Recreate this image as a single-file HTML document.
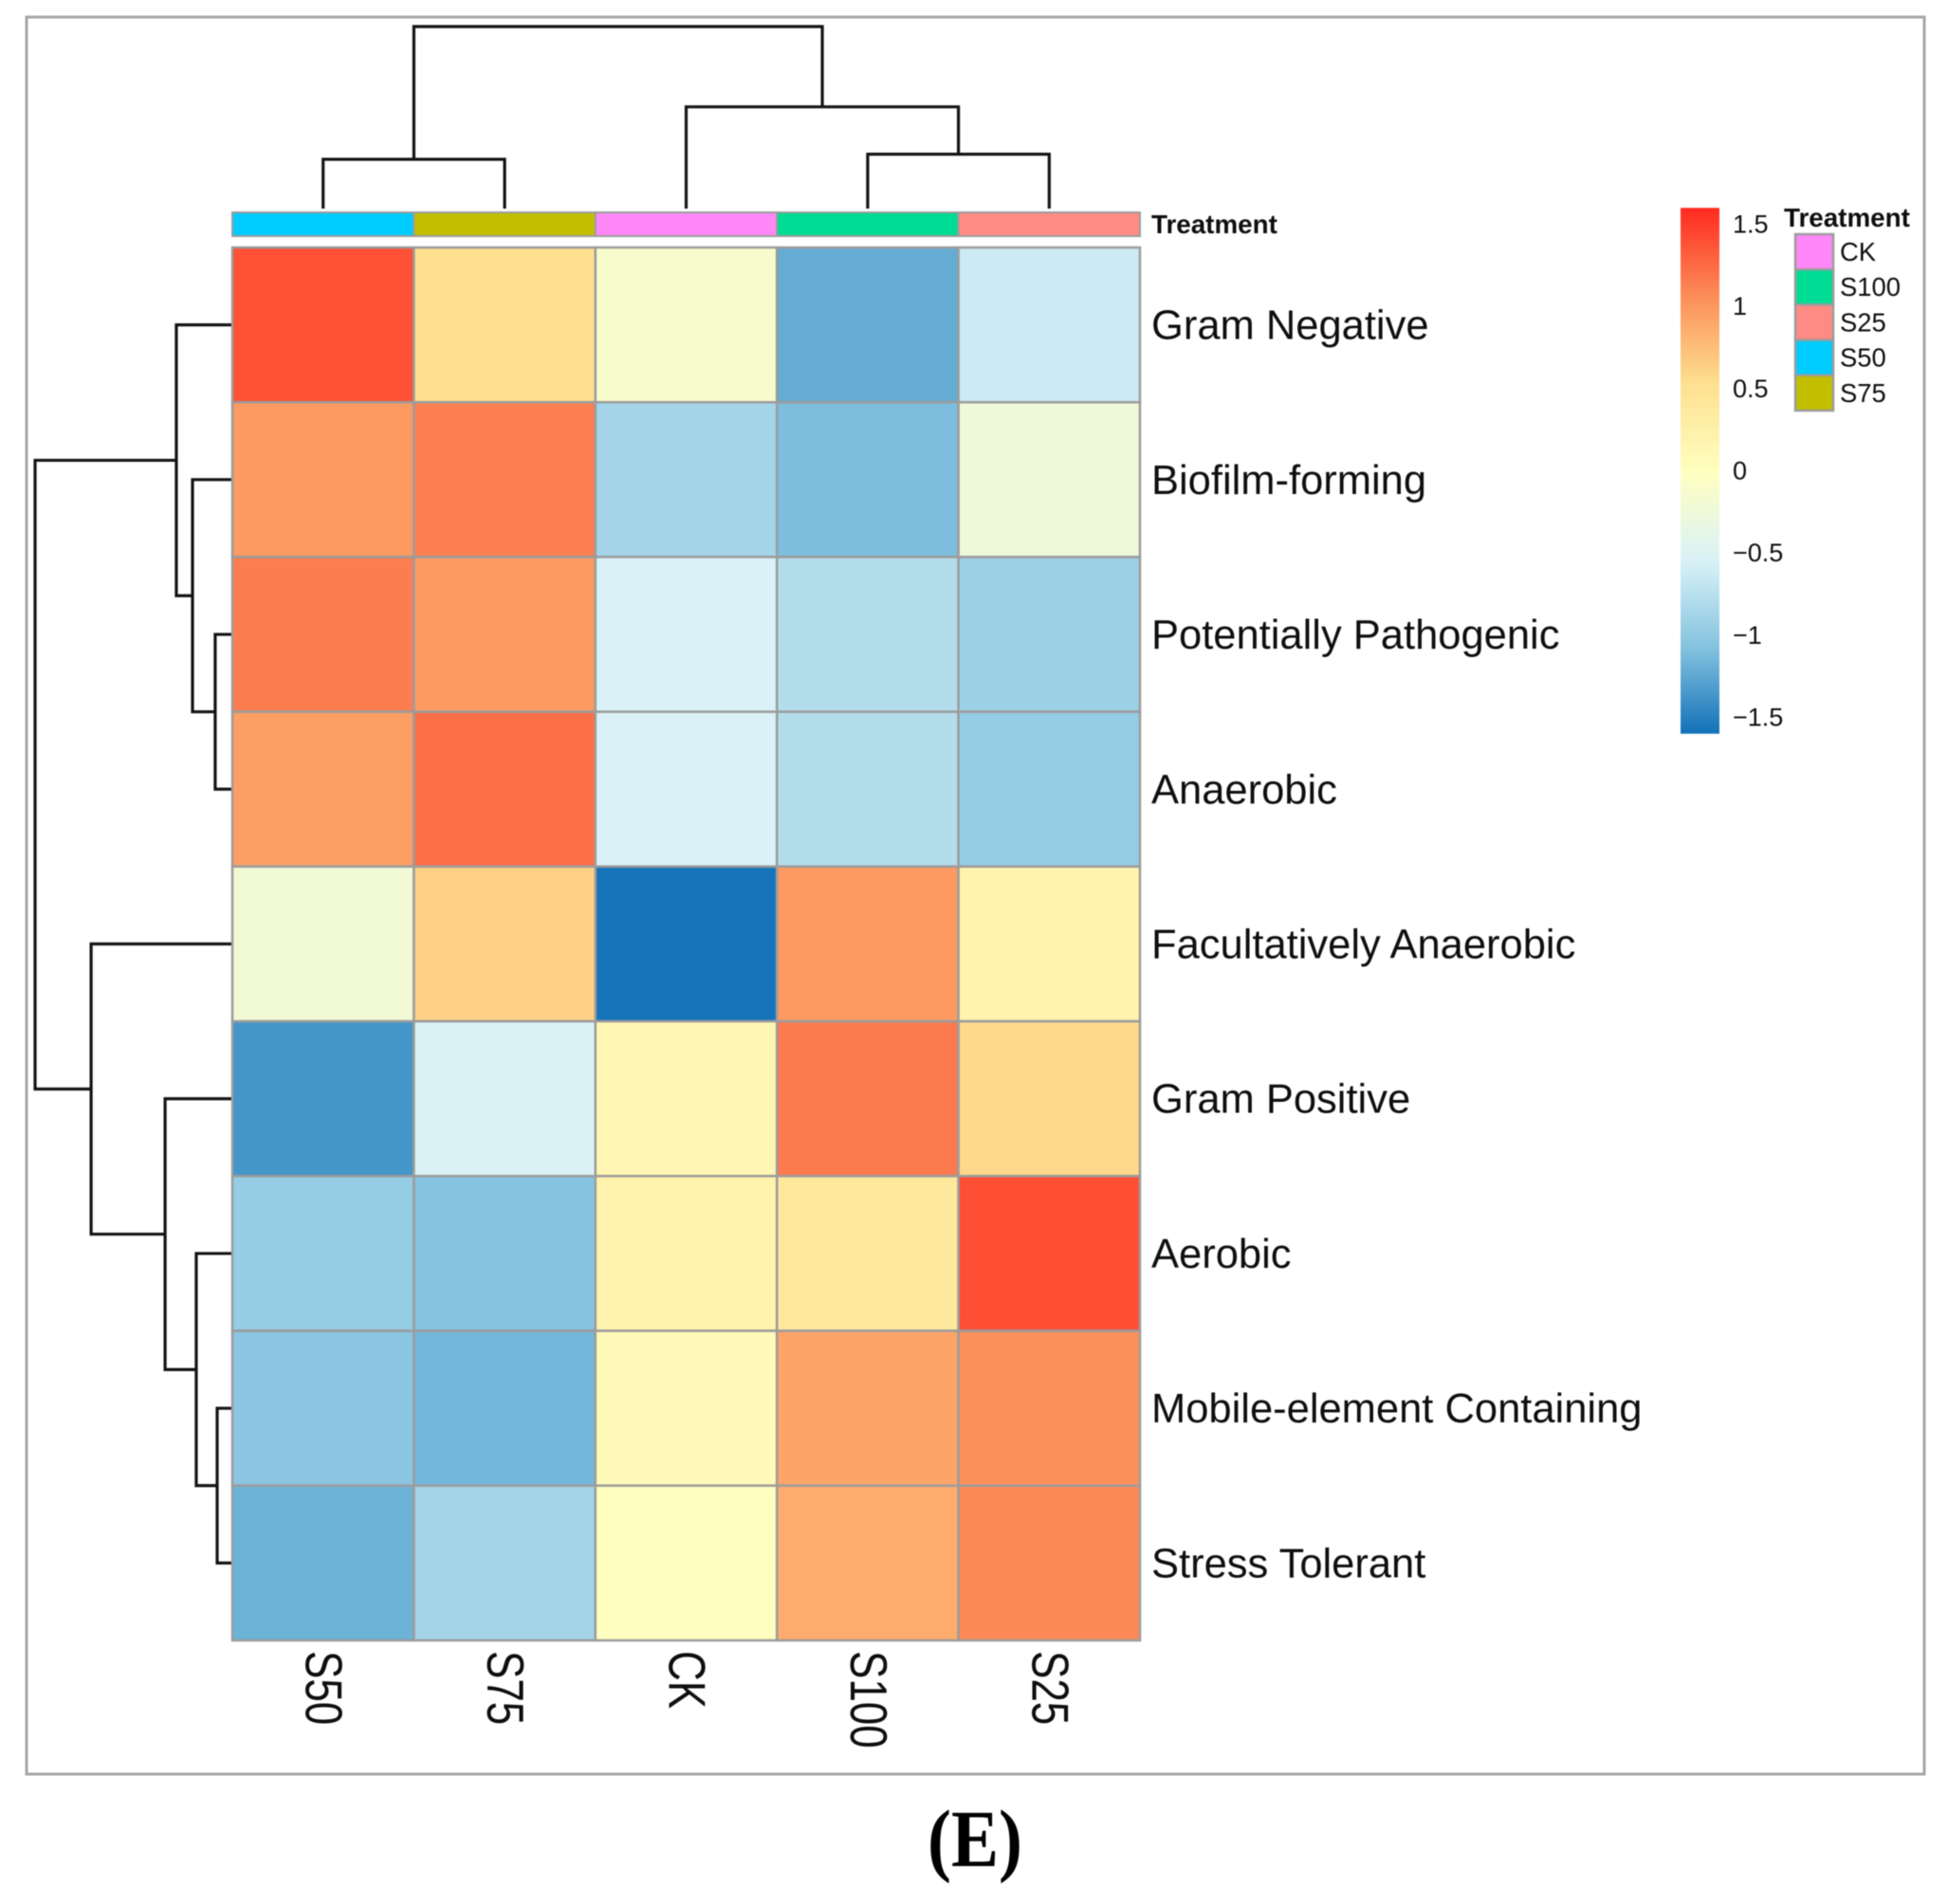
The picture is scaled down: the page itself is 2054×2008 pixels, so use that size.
<!DOCTYPE html>
<html lang="en">
<head>
<meta charset="utf-8">
<title>Heatmap of bacterial phenotypes by treatment</title>
<style>
  html, body { margin: 0; padding: 0; background: #fff; }
  #chart { display: block; width: 2054px; height: 2008px; filter: blur(0.6px); }
  text { font-family: "Liberation Sans", sans-serif; fill: #0e0e0e; }
</style>
</head>
<body>
<svg id="chart" xmlns="http://www.w3.org/2000/svg" width="2054" height="2008" viewBox="0 0 2054 2008">
  <defs>
    <linearGradient id="scale-gradient" x1="0" y1="1" x2="0" y2="0"></linearGradient>
  </defs>
  <rect x="0" y="0" width="2054" height="2008" fill="#ffffff"></rect>
  <rect x="28" y="18" width="2001" height="1853" fill="none" stroke="#a6a6a6" stroke-width="3"></rect>
  <g id="col-dendrogram"></g>
  <g id="row-dendrogram"></g>
  <g id="annotation"></g>
  <g id="cells"></g>
  <g id="row-labels"></g>
  <g id="col-labels"></g>
  <text x="1214" y="246" font-size="27.8" font-weight="bold">Treatment</text>
  <g id="colorbar"></g>
  <text x="1881" y="239" font-size="27.8" font-weight="bold">Treatment</text>
  <g id="treatment-legend"></g>
  <text x="1028" y="1968" font-size="86" font-weight="bold" text-anchor="middle" textLength="100" lengthAdjust="spacingAndGlyphs" style="font-family:'Liberation Serif',serif;fill:#000">(E)</text>
</svg>
<script>
// ---- data ----
const colLabels = ["S50", "S75", "CK", "S100", "S25"];
const colTreatments = ["S50", "S75", "CK", "S100", "S25"];
const rowLabels = ["Gram Negative", "Biofilm-forming", "Potentially Pathogenic", "Anaerobic", "Facultatively Anaerobic", "Gram Positive", "Aerobic", "Mobile-element Containing", "Stress Tolerant"];
const gramNegative = [1.39, 0.53, -0.12, -1.22, -0.63];
const biofilmForming = [0.98, 1.14, -0.885, -1.11, -0.25];
const potentiallyPathogenic = [1.15, 0.98, -0.54, -0.78, -0.93];
const anaerobic = [0.95, 1.23, -0.54, -0.78, -0.97];
const facultativelyAnaerobic = [-0.21, 0.63, -1.58, 0.98, 0.2];
const gramPositive = [-1.367, -0.53, 0.14, 1.17, 0.58];
const aerobic = [-0.97, -1.07, 0.2, 0.4, 1.4];
const mobileElement = [-1.04, -1.15, 0.08, 0.92, 1.05];
const stressTolerant = [-1.18, -0.885, 0.01, 0.87, 1.09];
const scaleTicks = [1.5, 1, 0.5, 0, -0.5, -1, -1.5];
const legendTreatments = ["CK", "S100", "S25", "S50", "S75"];
// dendrogram merges: negative = leaf (1-based), positive = earlier merge (1-based)
const rowMergeLeft = [-8, -3, -7, -2, -6, -1, -5, 6];
const rowMergeRight = [-9, -4, 1, 2, 3, 4, 5, 7];
const rowMergeHeight = [0.077, 0.087, 0.183, 0.202, 0.341, 0.284, 0.716, 1];
const colMergeLeft = [-1, -4, -3, 1];
const colMergeRight = [-2, -5, 2, 3];
const colMergeHeight = [0.271, 0.299, 0.559, 1];

// ---- palette ----
const treatmentColors = { CK: "#FF88F8", S100: "#00DC94", S25: "#FF8C84", S50: "#00CCFF", S75: "#C2BF00" };
const scaleMin = -1.6, scaleMax = 1.6;
const paletteStops = ["#1272B8", "#86C4E0", "#DBF3F7", "#FFFFBF", "#FEE090", "#FC8D59", "#FF2A1F"];

// ---- layout ----
const heatRows = [gramNegative, biofilmForming, potentiallyPathogenic, anaerobic, facultativelyAnaerobic, gramPositive, aerobic, mobileElement, stressTolerant];
const SVGNS = "http://www.w3.org/2000/svg";
const gridLeft = 245, gridRight = 1202, gridTop = 261, gridBottom = 1730;
const colW = (gridRight - gridLeft) / colLabels.length;
const rowH = (gridBottom - gridTop) / rowLabels.length;
const xCol = i => gridLeft + i * colW;
const yRow = i => gridTop + i * rowH;
const rowDendroX = h => gridLeft - h * 208;
const colDendroY = h => 220 - h * 192;
const scaleY = v => 496.5 - v * 173.3;

function make(tag, attrs, parent) {
  const el = document.createElementNS(SVGNS, tag);
  for (const k in attrs) el.setAttribute(k, attrs[k]);
  parent.appendChild(el);
  return el;
}
function hexToRgb(h) { return [1, 3, 5].map(i => parseInt(h.slice(i, i + 2), 16)); }
function colorFor(v) {
  const t = Math.max(0, Math.min(1, (v - scaleMin) / (scaleMax - scaleMin))) * (paletteStops.length - 1);
  const i = Math.min(paletteStops.length - 2, Math.floor(t));
  const a = hexToRgb(paletteStops[i]), b = hexToRgb(paletteStops[i + 1]);
  const f = t - i;
  return "rgb(" + a.map((c, k) => Math.round(c + (b[k] - c) * f)).join(",") + ")";
}
function slug(s) { return s.toLowerCase().replace(/[^a-z0-9]+/g, "-"); }

// heatmap cells
const cellsG = document.getElementById("cells");
heatRows.forEach((vals, r) => {
  vals.forEach((v, c) => {
    const cell = make("rect", { x: xCol(c), y: yRow(r), width: colW, height: rowH, fill: colorFor(v), stroke: "#9c9c9c", "stroke-width": 2.5 }, cellsG);
    
    
  });
});

// annotation bar
const annG = document.getElementById("annotation");
colTreatments.forEach((t, c) => {
  const seg = make("rect", { x: xCol(c), y: 224, width: colW, height: 25, fill: treatmentColors[t], stroke: "#9c9c9c", "stroke-width": 2 }, annG);
  
  
});

// row labels
const rowLabelG = document.getElementById("row-labels");
rowLabels.forEach((name, r) => {
  const t = make("text", { x: 1214, y: yRow(r) + rowH / 2 + 15, "font-size": 43.5 }, rowLabelG);
  t.textContent = name;
  
  
});

// column labels
const colLabelG = document.getElementById("col-labels");
colLabels.forEach((name, c) => {
  const cx = xCol(c) + colW / 2 - 18;
  const t = make("text", { transform: "translate(" + cx + ",1741) rotate(90) scale(0.8,1)", "font-size": 55 }, colLabelG);
  t.textContent = name;
  
  
});

// dendrograms
function buildDendrogram(left, right, heights, leafPos, heightPos, group, horizontal, prefix) {
  const nodes = [];
  const nodePos = id => id < 0 ? { p: leafPos(-id - 1), h: heightPos(0) } : nodes[id - 1];
  heights.forEach((h, i) => {
    const a = nodePos(left[i]), b = nodePos(right[i]);
    const hp = heightPos(h);
    const d = horizontal
      ? "M" + a.h + " " + a.p + "H" + hp + "V" + b.p + "H" + b.h
      : "M" + a.p + " " + a.h + "V" + hp + "H" + b.p + "V" + b.h;
    const link = make("path", { d: d, fill: "none", stroke: "#141414", "stroke-width": 3.2, "stroke-linejoin": "miter" }, group);
    
    
    nodes.push({ p: (a.p + b.p) / 2, h: hp });
  });
}
buildDendrogram(rowMergeLeft, rowMergeRight, rowMergeHeight, i => yRow(i) + rowH / 2, rowDendroX, document.getElementById("row-dendrogram"), true, "row-dendrogram");
buildDendrogram(colMergeLeft, colMergeRight, colMergeHeight, i => xCol(i) + colW / 2, colDendroY, document.getElementById("col-dendrogram"), false, "column-dendrogram");

// colour scale
const grad = document.getElementById("scale-gradient");
paletteStops.forEach((c, i) => {
  make("stop", { offset: i / (paletteStops.length - 1), "stop-color": c }, grad);
});
const cbG = document.getElementById("colorbar");
const cbRect = make("rect", { x: 1772, y: scaleY(scaleMax), width: 41, height: scaleY(scaleMin) - scaleY(scaleMax), fill: "url(#scale-gradient)" }, cbG);


scaleTicks.forEach(v => {
  const t = make("text", { x: 1827, y: scaleY(v) + 9, "font-size": 27 }, cbG);
  t.textContent = String(v).replace("-", "\u2212");
  
  
});

// treatment legend
const lgG = document.getElementById("treatment-legend");
legendTreatments.forEach((name, i) => {
  const y = 247 + i * 37.2;
  const sw = make("rect", { x: 1893, y: y, width: 40, height: 37.2, fill: treatmentColors[name], stroke: "#9c9c9c", "stroke-width": 2.5 }, lgG);
  
  
  const t = make("text", { x: 1940, y: y + 28, "font-size": 27.4 }, lgG);
  t.textContent = name;
  
  
});
</script>
</body>
</html>
